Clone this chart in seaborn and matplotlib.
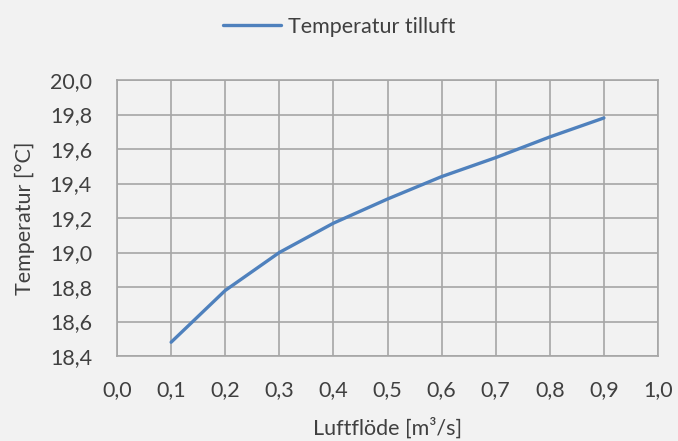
import matplotlib
matplotlib.use("Agg")
import matplotlib.pyplot as plt
import numpy as np
import pandas as pd
import seaborn as sns

BG = "#f2f2f2"
GRID = "#a6a6a6"
TEXT = "#404040"
LINE = "#4f81bd"

luftflode = [0.1, 0.2, 0.3, 0.4, 0.5, 0.6, 0.7, 0.8, 0.9]
temperatur = [18.48, 18.78, 19.00, 19.17, 19.31, 19.44, 19.55, 19.67, 19.78]
series_name = "Temperatur tilluft"

x_ticks = [0.0, 0.1, 0.2, 0.3, 0.4, 0.5, 0.6, 0.7, 0.8, 0.9, 1.0]
y_ticks = [18.4, 18.6, 18.8, 19.0, 19.2, 19.4, 19.6, 19.8, 20.0]

df = pd.DataFrame({"x": luftflode, "y": temperatur, "serie": series_name})

sns.set_theme(style="white")
plt.rcParams["font.family"] = ["Lato", "DejaVu Sans"]

FS = 15.5

fig = plt.figure(figsize=(6.78, 4.41), dpi=100)
fig.patch.set_facecolor(BG)
ax = fig.add_axes([0.1726, 0.1927, 0.9705 - 0.1726, 0.8186 - 0.1927])
ax.set_facecolor(BG)

sns.lineplot(data=df, x="x", y="y", hue="serie", palette=[LINE],
             linewidth=2.4, ax=ax)

ax.set_xlim(0, 1.0)
ax.set_ylim(18.4, 20.0)
ax.set_xticks(x_ticks)
ax.set_yticks(y_ticks)
ax.set_xticklabels([f"{v:.1f}".replace(".", ",") for v in x_ticks])
ax.set_yticklabels([f"{v:.1f}".replace(".", ",") for v in y_ticks])
ax.tick_params(colors=TEXT, labelsize=FS, length=0)
ax.tick_params(axis="x", pad=17)
ax.tick_params(axis="y", pad=18)
ax.grid(True, color=GRID, linewidth=1.2)
for spine in ax.spines.values():
    spine.set_edgecolor(GRID)
    spine.set_linewidth(1.2)

ax.set_xlabel("Luftflöde [m³/s]", color=TEXT, fontsize=FS, va="center")
ax.set_ylabel("Temperatur [°C]", color=TEXT, fontsize=FS, va="center")
ax.xaxis.set_label_coords(0.5, -0.26)
ax.yaxis.set_label_coords(-0.17, 0.5)

leg = ax.legend(loc="center", bbox_to_anchor=(0.5, 1 - 27 / 441),
                bbox_transform=fig.transFigure, frameon=False,
                fontsize=FS, handlelength=2.7, handletextpad=0.3)
for t in leg.get_texts():
    t.set_color(TEXT)

fig.savefig("out.png", dpi=100, facecolor=BG)
